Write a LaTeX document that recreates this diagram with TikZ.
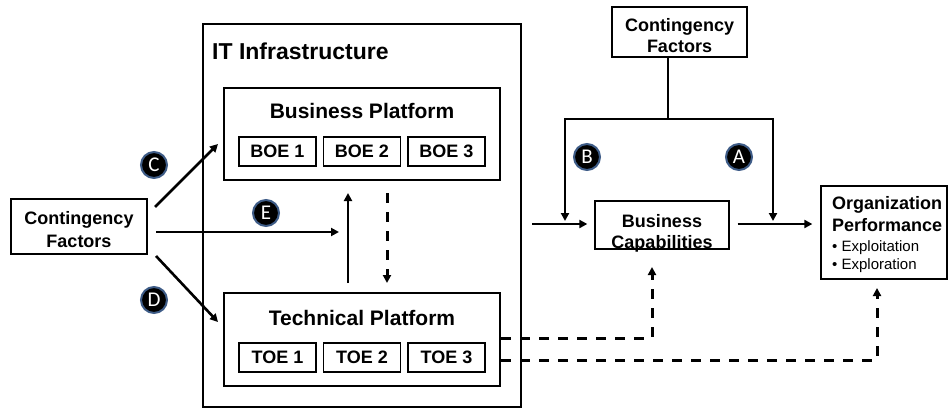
\documentclass[tikz,border=0pt]{standalone}
\usepackage{fontspec}
\setmainfont{Liberation Sans}
\newfontfamily\badgefont{Carlito}
\usetikzlibrary{arrows.meta,calc}
\definecolor{badgeedge}{RGB}{62,92,135}
\begin{document}
\begin{tikzpicture}[x=1pt,y=-1pt,
 box/.style={draw, line width=1.3pt, inner sep=0pt},
 boxtext/.style={anchor=north, inner sep=0pt, align=center},
 bigbox/.style={draw, line width=2.8pt, inner sep=0pt},
 elem/.style={draw, line width=1.3pt, inner sep=0pt, minimum width=77pt, minimum height=29pt, font=\fontsize{18}{18}\selectfont\bfseries},
 ptitle/.style={font=\fontsize{21}{21}\selectfont\bfseries, inner sep=0pt},
 badge/.style={circle, fill=black, draw=badgeedge, line width=2pt, minimum size=26pt, inner sep=0pt, text=white, font=\badgefont\fontsize{21}{21}\selectfont},
 arr/.style={line width=2.6pt, -{Triangle[length=8pt,width=8pt]}},
 darr/.style={line width=3pt, dash pattern=on 10pt off 9pt, -{Triangle[length=8pt,width=8pt]}},
 ln/.style={line width=2.8pt}
]
\useasboundingbox (0,0) rectangle (949,409);

% IT infrastructure
\node[bigbox, minimum width=318pt, minimum height=383pt] (it) at (362,215.5) {};
\node[anchor=west, font=\fontsize{23}{23}\selectfont\bfseries, inner sep=0pt] (ittitle) at (212,51) {IT Infrastructure};

\node[bigbox, minimum width=276pt, minimum height=92pt] (bp) at (362,134) {};
\node[ptitle] (bpt) at (362,111) {Business Platform};
\node[elem] (boe1) at (277.5,151.5) {BOE 1};
\node[elem] (boe2) at (362,151.5) {BOE 2};
\node[elem] (boe3) at (446.5,151.5) {BOE 3};

\node[bigbox, minimum width=276pt, minimum height=93pt] (tp) at (362,339.5) {};
\node[ptitle] (tpt) at (362,318) {Technical Platform};
\node[elem] (toe1) at (277.5,357.5) {TOE 1};
\node[elem] (toe2) at (362,357.5) {TOE 2};
\node[elem] (toe3) at (446.5,357.5) {TOE 3};

% other boxes
\node[box, minimum width=136pt, minimum height=55pt] (cf1) at (79,226.5) {};
\node[boxtext, font=\fontsize{18}{23}\selectfont\bfseries] (cf1t) at (79,211.2) {Contingency\\Factors};
\node[box, minimum width=135pt, minimum height=50pt] (cf2) at (679.5,32) {};
\node[boxtext, font=\fontsize{18}{21.5}\selectfont\bfseries] (cf2t) at (679.5,18.2) {Contingency\\Factors};
\node[box, minimum width=134pt, minimum height=48pt] (bc) at (662,225) {};
\node[boxtext, font=\fontsize{18}{21.5}\selectfont\bfseries] (bct) at (662,214) {Business\\Capabilities};
\node[box, minimum width=126pt, minimum height=93pt] (op) at (884,232.5) {};
\node[anchor=north west, inner sep=0pt, align=left, font=\fontsize{18}{18}\selectfont\bfseries] (opt) at (832,196.7)
  {Organization\\[3.7pt]Performance\\[2pt]{\mdseries\fontsize{15}{15}\selectfont • Exploitation}\\[0.3pt]{\mdseries\fontsize{15}{15}\selectfont • Exploration}};

% left arrows
\coordinate (c0) at (155,207); \coordinate (c1) at (218,144);
\coordinate (e0) at (156,232); \coordinate (e1) at (339,232);
\coordinate (d0) at (156,256); \coordinate (d1) at (218,322);
\draw[arr] (c0) -- (c1);
\draw[arr] (e0) -- (e1);
\draw[arr] (d0) -- (d1);

% between platforms
\coordinate (u0) at (348,283); \coordinate (u1) at (348,193);
\coordinate (v0) at (387,193); \coordinate (v1) at (387,283);
\draw[arr] (u0) -- (u1);
\draw[darr] (v0) -- (v1);

% moderating bracket
\coordinate (jn) at (668,119);
\coordinate (bl) at (565,221); \coordinate (br) at (773,221);
\draw[ln] (cf2.south -| jn) -- (jn);
\draw[line width=2.8pt, {Triangle[length=8pt,width=8pt]}-{Triangle[length=8pt,width=8pt]}] (bl) |- (jn) -| (br);

% main chain
\coordinate (bcin) at (532,224);
\draw[arr, shorten >=7pt] (bcin) -- (bcin -| bc.west);
\draw[arr, shorten <=8pt, shorten >=8pt] (bcin -| bc.east) -- (bcin -| op.west);

% dashed links
\coordinate (y1) at (0,338); \coordinate (dd1) at (652,267);
\coordinate (y2) at (0,360); \coordinate (dd2) at (877,288);
\draw[darr] (tp.east |- y1) -| (dd1);
\draw[darr] (tp.east |- y2) -| (dd2);

% badges
\node[badge] (bC) at (154,165) {C};
\node[badge] (bD) at (154,300) {D};
\node[badge] (bE) at (266,213) {E};
\node[badge] (bB) at (587,157) {B};
\node[badge] (bA) at (739,157) {A};
\end{tikzpicture}
\end{document}
